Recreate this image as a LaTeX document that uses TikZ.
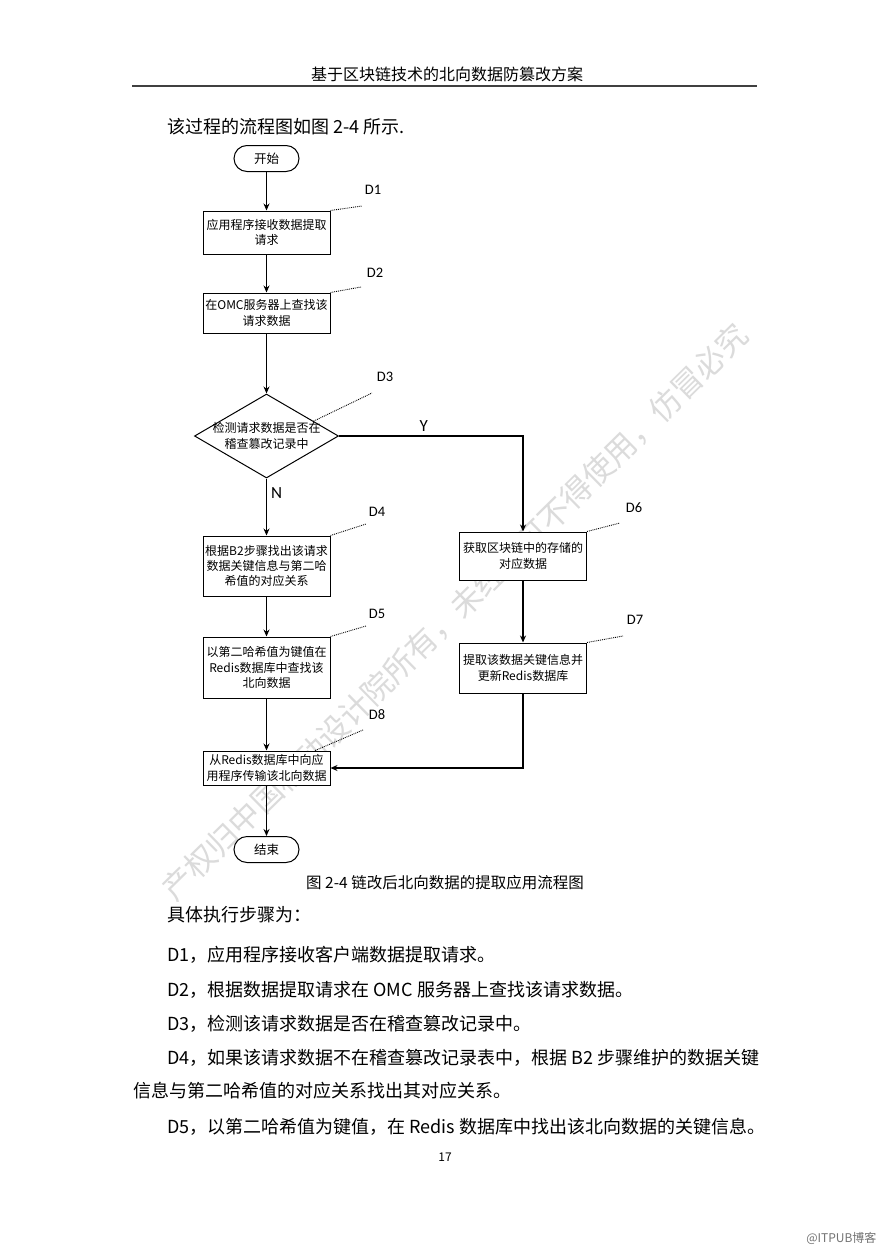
\documentclass[tikz,border=0pt]{standalone}
\usepackage{fontspec}
\newfontfamily\cjk{Noto Sans CJK SC}
\newfontfamily\tagfont{Carlito}
\usetikzlibrary{shapes.geometric,arrows.meta,calc,positioning}

\begin{document}
\begin{tikzpicture}[x=1pt,y=-1pt,
        box/.style={draw, fill=white, line width=1pt, minimum width=127pt, inner sep=0pt, align=center, font=\cjk\fontsize{12}{15.3}\selectfont},
        term/.style={draw, fill=white, line width=1pt, rounded corners=13pt, minimum width=65pt, minimum height=26pt, font=\cjk\fontsize{12.5}{15}\selectfont},
        decision/.style={draw, fill=white, line width=1pt, diamond, aspect=1.714, inner sep=-4pt, minimum width=144pt, minimum height=84pt, align=center, font=\cjk\fontsize{12}{15.3}\selectfont},
        flow/.style={line width=1.2pt, -{Stealth[length=7pt,width=6pt]}},
        leader/.style={densely dotted, line width=0.9pt},
        tag/.style={font=\tagfont\fontsize{14.5}{14.5}\selectfont},
        yn/.style={font=\tagfont\fontsize{17}{17}\selectfont, inner sep=4pt},
        body/.style={anchor=west, inner sep=0pt, font=\cjk\fontsize{18}{18}\selectfont}]
        % page
        \fill[white] (0,0) rectangle (889,1258);
        \useasboundingbox (0,0) rectangle (889,1258);
        \node[rotate=44.5, text=black!14, font=\cjk\fontsize{31}{31}\selectfont] (mark) at (455,612) {产权归中国移动设计院所有，未经许可不得使用，仿冒必究};
        \node[font=\cjk\fontsize{16}{16}\selectfont] (head) at (447,74) {基于区块链技术的北向数据防篡改方案};
        \draw[line width=1.5pt, black!75] (132,86) -- (757,86);
        \node[body] (intro) at (167,127) {该过程的流程图如图 2-4 所示.};

        % flow chart
        \node[term] (start) at (266.5,158.5) {开始};
        \node[box, minimum height=43pt] (d1) at (266.5,232.5) {应用程序接收数据提取\\请求};
        \node[box, minimum height=40pt] (d2) at (266.5,313) {在OMC服务器上查找该\\请求数据};
        \node[decision] (d3) at (266.5,436) {检测请求数据是否在\\稽查篡改记录中};
        \node[box, minimum height=60pt] (d4) at (266.5,566) {根据B2步骤找出该请求\\数据关键信息与第二哈\\希值的对应关系};
        \node[box, minimum height=61pt] (d5) at (266.5,667.5) {以第二哈希值为键值在\\Redis数据库中查找该\\北向数据};
        \node[box, minimum height=48pt] (d6) at (523,556) {获取区块链中的存储的\\对应数据};
        \node[box, minimum height=50pt] (d7) at (523,668) {提取该数据关键信息并\\更新Redis数据库};
        \node[box, minimum height=34pt] (d8) at (266.5,768) {从Redis数据库中向应\\用程序传输该北向数据};
        \node[term] (end) at (266.5,849.5) {结束};

        \draw[flow] (start) -- (d1);
        \draw[flow] (d1) -- (d2);
        \draw[flow] (d2) -- (d3);
        \draw[flow] (d3) -- node[pos=0.26, right, yn]{N} (d4);
        \draw[flow] (d3) -| node[pos=0.23, above, yn]{Y} (d6);
        \draw[flow] (d4) -- (d5);
        \draw[flow] (d5) -- (d8);
        \draw[flow] (d6) -- (d7);
        \draw[flow] (d7) |- (d8);
        \draw[flow] (d8) -- (end);

        % step tags
        \coordinate (c1) at (362,206);
        \coordinate (c2) at (361,287);
        \coordinate (c3) at (372,393);
        \coordinate (c4) at (366,524);
        \coordinate (c5) at (366,626);
        \coordinate (c6) at (620,523);
        \coordinate (c7) at (623,636);
        \coordinate (c8) at (363,730);
        \draw[leader] (d1.north east) -- (c1);
        \draw[leader] (d2.north east) -- (c2);
        \draw[leader] ($(d3.north)!.65!(d3.east)$) -- (c3);
        \draw[leader] (d4.north east) -- (c4);
        \draw[leader] (d5.north east) -- (c5);
        \draw[leader] (d6.north east) -- (c6);
        \draw[leader] (d7.north east) -- (c7);
        \draw[leader] ($(d8.north)!.76!(d8.north east)$) -- (c8);
        \node[tag] (t1) at (373,190) {D1};
        \node[tag] (t2) at (375,273) {D2};
        \node[tag] (t3) at (385,377) {D3};
        \node[tag] (t4) at (377,512) {D4};
        \node[tag] (t5) at (377,614) {D5};
        \node[tag] (t6) at (634,508) {D6};
        \node[tag] (t7) at (635,620) {D7};
        \node[tag] (t8) at (377,715) {D8};

        % text below
        \node[font=\cjk\fontsize{15.5}{15.5}\selectfont] (cap) at (445,883) {图 2-4 链改后北向数据的提取应用流程图};
        \node[body] (s0) at (167,915) {具体执行步骤为：};
        \node[body] (s1) at (167,955) {D1，应用程序接收客户端数据提取请求。};
        \node[body] (s2) at (167,990) {D2，根据数据提取请求在 OMC 服务器上查找该请求数据。};
        \node[body] (s3) at (167,1024) {D3，检测该请求数据是否在稽查篡改记录中。};
        \node[body] (s4) at (167,1058) {D4，如果该请求数据不在稽查篡改记录表中，根据 B2 步骤维护的数据关键};
        \node[body] (s4b) at (133,1091) {信息与第二哈希值的对应关系找出其对应关系。};
        \node[body] (s5) at (167,1127) {D5，以第二哈希值为键值，在 Redis 数据库中找出该北向数据的关键信息。};
        \node[font=\cjk\fontsize{12}{12}\selectfont] (pg) at (445,1157) {17};
        \node[anchor=east, text=black!55, font=\cjk\fontsize{12}{12}\selectfont] (itpub) at (880,1238) {@ITPUB博客};
    \end{tikzpicture}
\end{document}
